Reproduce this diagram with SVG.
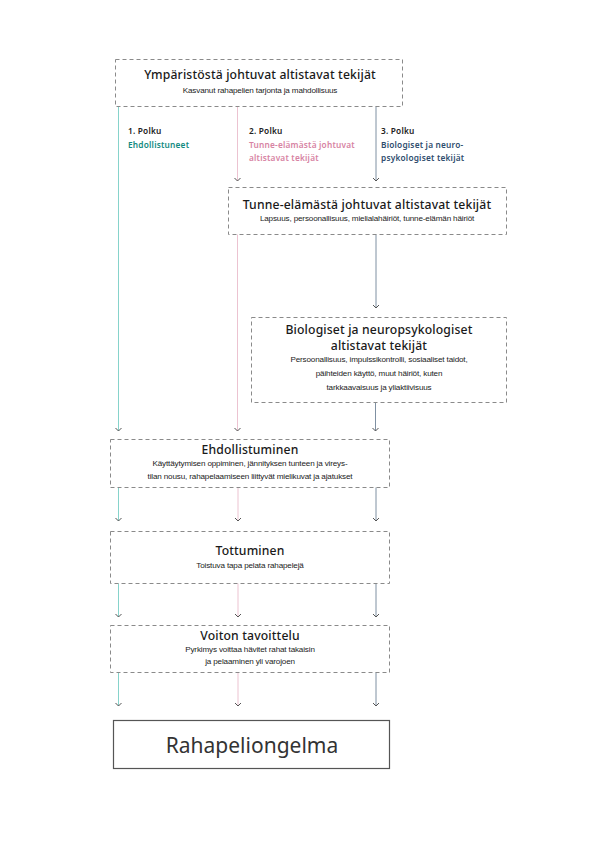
<svg xmlns="http://www.w3.org/2000/svg" width="595" height="842" viewBox="0 0 595 842">
<style>
.box{fill:#fff;stroke:#8a8a8a;stroke-width:1;stroke-dasharray:4 3}
.solid{fill:#fff;stroke:#555;stroke-width:1.2}
.t{font-family:"Noto Sans","Liberation Sans",sans-serif;font-size:12.2px;font-weight:500;fill:#1a1a1a;text-anchor:middle;letter-spacing:0.15px}
.s{font-family:"Liberation Sans",sans-serif;font-size:8.1px;fill:#222;text-anchor:middle;letter-spacing:-0.15px}
.p{font-family:"Noto Sans","Liberation Sans",sans-serif;font-size:8.3px;font-weight:600;letter-spacing:0.2px}
.teal{stroke:#86d3cb}
.pink{stroke:#ecc3d1}
.blue{stroke:#7f90a2}
.ln{stroke-width:1;fill:none}
</style>
<rect width="595" height="842" fill="#fff"/>
<g id="connectors">
<line class="ln teal" x1="118.5" y1="106" x2="118.5" y2="431"/>
<line class="ln pink" x1="237.5" y1="106" x2="237.5" y2="181"/>
<line class="ln blue" x1="376" y1="106" x2="376" y2="181"/>
<line class="ln pink" x1="237.5" y1="234" x2="237.5" y2="431"/>
<line class="ln blue" x1="376" y1="234" x2="376" y2="308"/>
<line class="ln blue" x1="375.5" y1="402" x2="375.5" y2="431"/>
<line class="ln teal" x1="118.5" y1="487" x2="118.5" y2="521"/>
<line class="ln pink" x1="238" y1="487" x2="238" y2="521"/>
<line class="ln blue" x1="376" y1="487" x2="376" y2="521"/>
<line class="ln teal" x1="118.5" y1="583" x2="118.5" y2="617"/>
<line class="ln pink" x1="238" y1="583" x2="238" y2="617"/>
<line class="ln blue" x1="376" y1="583" x2="376" y2="617"/>
<line class="ln teal" x1="118.5" y1="672" x2="118.5" y2="706"/>
<line class="ln pink" x1="238" y1="672" x2="238" y2="706"/>
<line class="ln blue" x1="376" y1="672" x2="376" y2="706"/>
<g fill="none" stroke="#555" stroke-width="1">
<polyline points="115.5,428 118.5,431 121.5,428"/>
<polyline points="234.5,178 237.5,181 240.5,178"/>
<polyline points="373,178 376,181 379,178"/>
<polyline points="234.5,428 237.5,431 240.5,428"/>
<polyline points="373,305 376,308 379,305"/>
<polyline points="372.5,428 375.5,431 378.5,428"/>
<polyline points="115.5,518 118.5,521 121.5,518"/>
<polyline points="235,518 238,521 241,518"/>
<polyline points="373,518 376,521 379,518"/>
<polyline points="115.5,614 118.5,617 121.5,614"/>
<polyline points="235,614 238,617 241,614"/>
<polyline points="373,614 376,617 379,614"/>
<polyline points="115.5,703 118.5,706 121.5,703"/>
<polyline points="235,703 238,706 241,703"/>
<polyline points="373,703 376,706 379,703"/>
</g>
</g>
<g id="path-labels">
<text class="p" x="128" y="134" fill="#222">1. Polku</text>
<text class="p" x="128" y="148" fill="#138a7f">Ehdollistuneet</text>
<text class="p" x="249" y="134" fill="#222">2. Polku</text>
<text class="p" x="249" y="148" fill="#d783a3">Tunne-elämästä johtuvat</text>
<text class="p" x="249" y="161" fill="#d783a3">altistavat tekijät</text>
<text class="p" x="381" y="134" fill="#222">3. Polku</text>
<text class="p" x="381" y="148" fill="#2f4d6e">Biologiset ja neuro-</text>
<text class="p" x="381" y="161" fill="#2f4d6e">psykologiset tekijät</text>
</g>
<g id="node-ymparisto">
<rect class="box" x="115.5" y="59.5" width="287" height="47"/>
<text class="t" x="260" y="79">Ympäristöstä johtuvat altistavat tekijät</text>
<text class="s" x="260" y="93">Kasvanut rahapelien tarjonta ja mahdollisuus</text>
</g>
<g id="node-tunne">
<rect class="box" x="228.5" y="187.5" width="278" height="47"/>
<text class="t" x="367" y="209">Tunne-elämästä johtuvat altistavat tekijät</text>
<text class="s" x="367" y="221">Lapsuus, persoonallisuus, mielialahäiriöt, tunne-elämän häiriöt</text>
</g>
<g id="node-biologiset">
<rect class="box" x="251.5" y="317.5" width="255" height="85"/>
<text class="t" x="379" y="334">Biologiset ja neuropsykologiset</text>
<text class="t" x="379" y="349.5">altistavat tekijät</text>
<text class="s" x="379" y="362">Persoonallisuus, impulssikontrolli, sosiaaliset taidot,</text>
<text class="s" x="379" y="376">päihteiden käyttö, muut häiriöt, kuten</text>
<text class="s" x="379" y="390">tarkkaavaisuus ja yliaktiivisuus</text>
</g>
<g id="node-ehdollistuminen">
<rect class="box" x="110.5" y="439.5" width="279" height="48"/>
<text class="t" x="250" y="454">Ehdollistuminen</text>
<text class="s" x="250" y="466">Käyttäytymisen oppiminen, jännityksen tunteen ja vireys-</text>
<text class="s" x="250" y="479">tilan nousu, rahapelaamiseen liittyvät mielikuvat ja ajatukset</text>
</g>
<g id="node-tottuminen">
<rect class="box" x="110.5" y="531.5" width="279" height="52"/>
<text class="t" x="250" y="555">Tottuminen</text>
<text class="s" x="250" y="568">Toistuva tapa pelata rahapelejä</text>
</g>
<g id="node-voiton">
<rect class="box" x="110.5" y="625.5" width="279" height="47"/>
<text class="t" x="250" y="640">Voiton tavoittelu</text>
<text class="s" x="250" y="652">Pyrkimys voittaa hävitet rahat takaisin</text>
<text class="s" x="250" y="664">ja pelaaminen yli varojoen</text>
</g>
<g id="node-rahapeliongelma">
<rect class="solid" x="113.5" y="720.5" width="276" height="48"/>
<text x="252" y="752.5" font-family="Noto Sans, Liberation Sans, sans-serif" font-size="21" fill="#333" text-anchor="middle">Rahapeliongelma</text>
</g>
</svg>
